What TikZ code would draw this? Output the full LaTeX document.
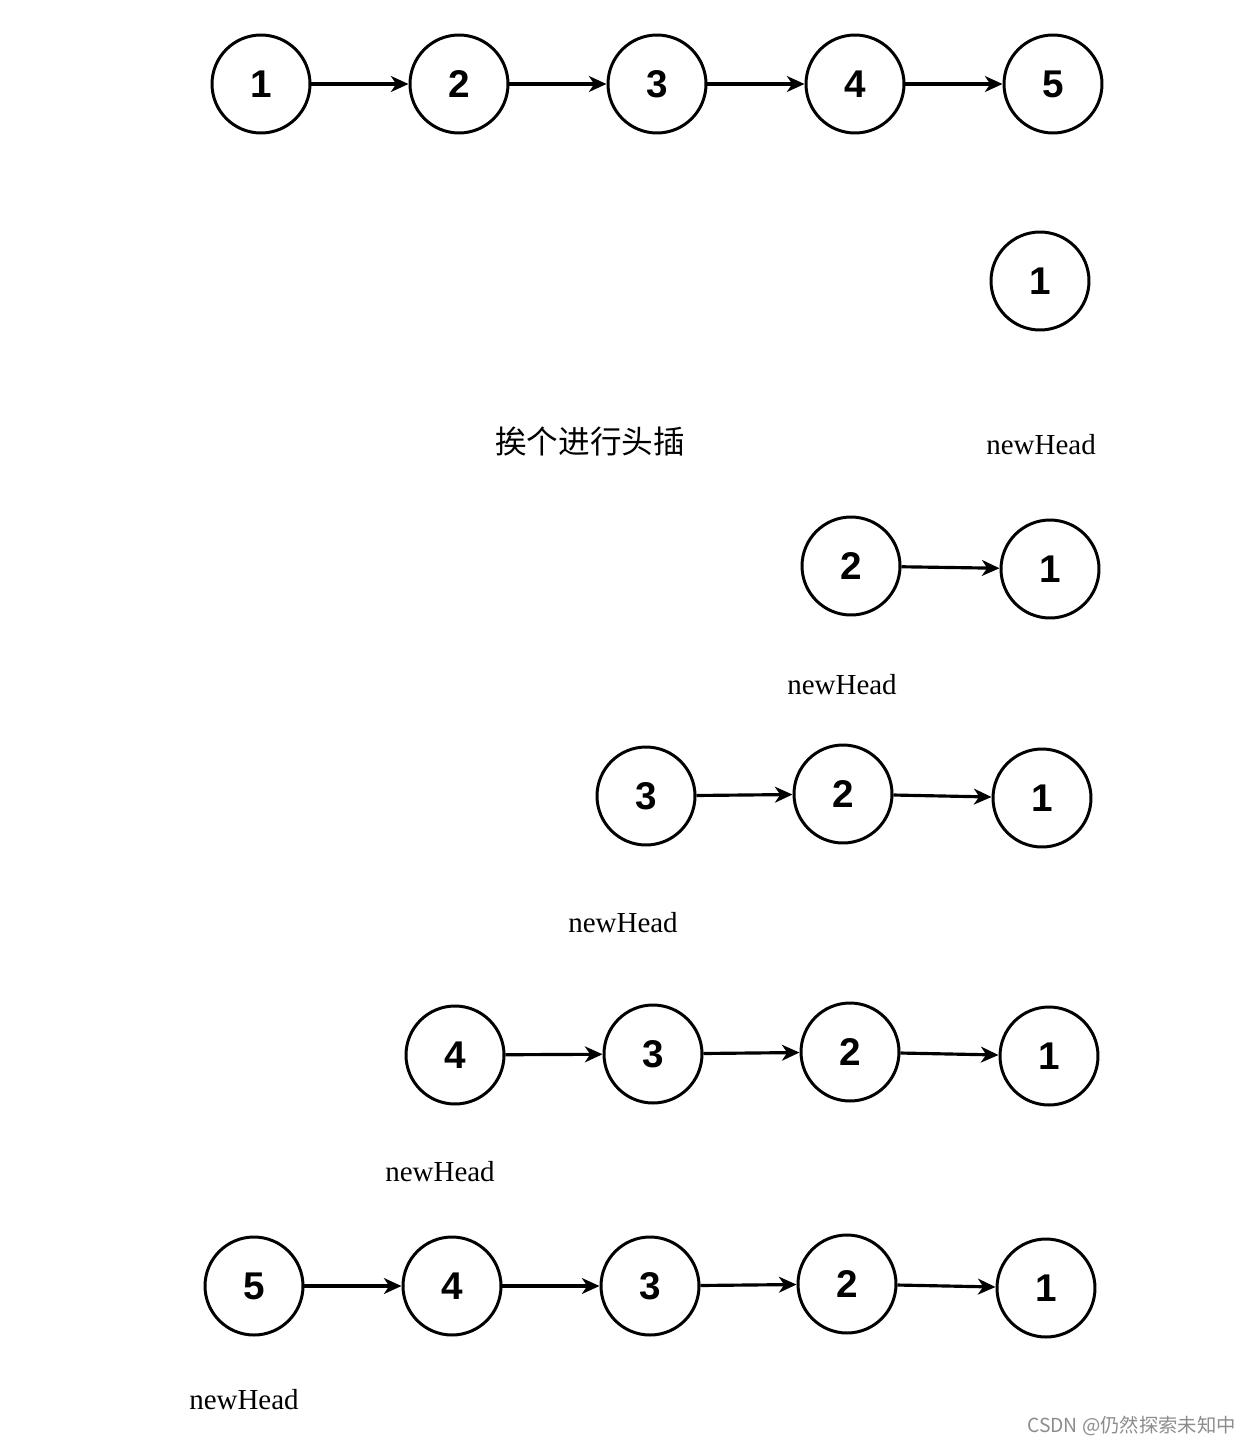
\documentclass[tikz,border=0pt]{standalone}
\usepackage{fontspec}
\setmainfont{Liberation Serif}
\newfontfamily\digitfont{Liberation Sans}
\newfontfamily\cjk{Noto Sans CJK SC}
\usetikzlibrary{arrows.meta,positioning}

\begin{document}
\begin{tikzpicture}[x=0.02cm, y=-0.02cm,
		num/.style={circle, draw, line width=1.7pt, minimum size=1.96cm, inner sep=0pt,
			font=\digitfont\bfseries\fontsize{22}{26}\selectfont},
		link/.style={line width=1.8pt, -{Stealth[length=10pt,width=9pt,inset=3pt]}},
		tag/.style={font=\fontsize{16.5}{20}\selectfont}]
		\useasboundingbox (0,0) rectangle (1257,1447);

		% original list
		\draw (261,84) node [num] (a1) {1};
		\draw (459,84) node [num] (a2) {2};
		\draw (657,84) node [num] (a3) {3};
		\draw (855,84) node [num] (a4) {4};
		\draw (1053,84) node [num] (a5) {5};

		\draw [link] (a1) edge (a2)
			(a2) edge (a3)
			(a3) edge (a4)
			(a4) edge (a5);

		% step 1
		\draw (1040,281) node [num] (b1) {1};
		\draw (1041,445) node [tag] (bhead) {newHead};
		\draw (590,442) node [font=\cjk\fontsize{18}{22}\selectfont] (note) {挨个进行头插};

		% step 2
		\draw (851,566) node [num] (c2) {2};
		\draw (1050,569) node [num] (c1) {1};
		\draw (842,685) node [tag] (chead) {newHead};
		\draw [link] (c2) edge (c1);

		% step 3
		\draw (646,796) node [num] (d3) {3};
		\draw (843,794) node [num] (d2) {2};
		\draw (1042,798) node [num] (d1) {1};
		\draw (623,923) node [tag] (dhead) {newHead};
		\draw [link] (d3) edge (d2)
			(d2) edge (d1);

		% step 4
		\draw (455,1055) node [num] (e4) {4};
		\draw (653,1054) node [num] (e3) {3};
		\draw (850,1052) node [num] (e2) {2};
		\draw (1049,1056) node [num] (e1) {1};
		\draw (440,1172) node [tag] (ehead) {newHead};
		\draw [link] (e4) edge (e3)
			(e3) edge (e2)
			(e2) edge (e1);

		% step 5
		\draw (254,1286) node [num] (f5) {5};
		\draw (452,1286) node [num] (f4) {4};
		\draw (650,1286) node [num] (f3) {3};
		\draw (847,1284) node [num] (f2) {2};
		\draw (1046,1288) node [num] (f1) {1};
		\draw (244,1400) node [tag] (fhead) {newHead};
		\draw [link] (f5) edge (f4)
			(f4) edge (f3)
			(f3) edge (f2)
			(f2) edge (f1);

		\draw (1242,1426) node [anchor=east, text=black!45, font=\cjk\fontsize{11}{13}\selectfont] (mark) {CSDN @仍然探索未知中};
	\end{tikzpicture}
\end{document}
